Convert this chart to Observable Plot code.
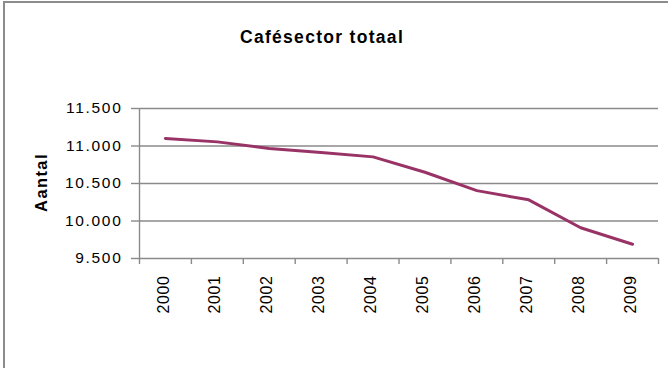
<!DOCTYPE html>
<html>
<head>
<meta charset="utf-8">
<script src="https://cdn.jsdelivr.net/npm/d3@7"></script>
<script src="https://cdn.jsdelivr.net/npm/@observablehq/plot@0.6"></script>
<style>
  html, body { margin: 0; padding: 0; background: #fff; }
  #wrap { position: relative; width: 668px; height: 368px; overflow: hidden; }
  #frame { position: absolute; left: 3px; top: 1px; width: 700px; height: 400px;
           border-left: 2px solid #8c8c8c; border-top: 2px solid #8c8c8c; pointer-events: none; }
  svg { font-family: "Liberation Sans", Arial, sans-serif; }
  svg g[aria-label="y-axis tick label"] text { font-size: 15.5px; letter-spacing: 1.7px; }
  svg g[aria-label="x-axis tick label"] text { font-size: 16px; letter-spacing: 0.6px; }
  svg g.ttl text { font-size: 17.5px; font-weight: bold; letter-spacing: 1.3px; }
  svg g.ylab text { font-size: 16.5px; font-weight: bold; letter-spacing: 1.4px; }
</style>
</head>
<body>
<div id="wrap"><div id="frame"></div></div>
<script>
const title = "Cafésector totaal";
const yLabel = "Aantal";
const years = [2000, 2001, 2002, 2003, 2004, 2005, 2006, 2007, 2008, 2009];
const values = [11100, 11055, 10967, 10913, 10855, 10650, 10405, 10282, 9910, 9690];
const yTicks = [9500, 10000, 10500, 11000, 11500];

const data = years.map((year, i) => ({year, value: values[i]}));
const boundaries = [years[0] - 0.5, ...years.map(y => y + 0.5)];
const nl = d3.formatLocale({decimal: ",", thousands: ".", grouping: [3], currency: ["€", ""]});
const fmt = nl.format(",d");
const grid = "#8a8a8a";

const chart = Plot.plot({
  width: 668,
  height: 368,
  marginLeft: 139,
  marginRight: 10,
  marginTop: 108,
  marginBottom: 110,
  style: {fontFamily: "'Liberation Sans', Arial, sans-serif", background: "transparent"},
  x: {domain: [boundaries[0], boundaries[boundaries.length - 1]]},
  y: {domain: [yTicks[0], yTicks[yTicks.length - 1]]},
  marks: [
    Plot.gridY(yTicks, {stroke: grid, strokeOpacity: 1, strokeWidth: 1.4}),
    Plot.ruleX([boundaries[0]], {stroke: grid, strokeWidth: 1.4}),
    Plot.axisY(yTicks, {tickSize: 8, tickPadding: 9, tickFormat: fmt, stroke: grid,
      strokeWidth: 1.4, fill: "#000", label: null}),
    Plot.axisX(boundaries, {tickSize: 6, tickFormat: () => "", stroke: grid, strokeWidth: 1.4, label: null}),
    Plot.axisX(years, {tickSize: 0, tickPadding: 17, tickRotate: -90, tickFormat: d => String(d),
      fill: "#000", dx: -2, label: null}),
    Plot.line(data, {x: "year", y: "value", stroke: "#993366", strokeWidth: 3}),
    Plot.text([title], {frameAnchor: "top", dx: -77, dy: -78, fill: "#000", className: "ttl"}),
    Plot.text([yLabel], {frameAnchor: "left", textAnchor: "middle", dx: -98, dy: -1, rotate: -90,
      fill: "#000", className: "ylab"})
  ]
});
document.getElementById("wrap").prepend(chart);
</script>
</body>
</html>
